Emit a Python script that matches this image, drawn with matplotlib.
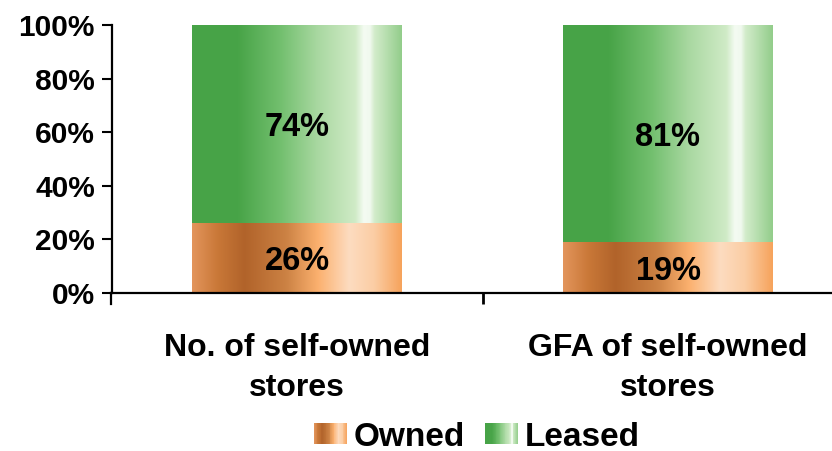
import numpy as np
import matplotlib
matplotlib.use("Agg")
import matplotlib.pyplot as plt
from matplotlib.colors import LinearSegmentedColormap
from matplotlib.patches import Rectangle
from matplotlib.legend_handler import HandlerBase

categories = ["No. of self-owned\nstores", "GFA of self-owned\nstores"]
owned = [26, 19]
leased = [74, 81]
series_names = ["Owned", "Leased"]
yticks = [0, 20, 40, 60, 80, 100]

orange_stops = [(0.0, "#E3955C"), (0.12, "#C97838"), (0.25, "#B1632A"), (0.45, "#CC8244"),
                (0.6, "#FBB06E"), (0.75, "#FDDCC0"), (0.87, "#FBCDA4"), (1.0, "#F6A35C")]
green_stops = [(0.0, "#47A347"), (0.22, "#48A448"), (0.42, "#72BF6E"), (0.6, "#A9D8A1"),
               (0.78, "#D0EBC7"), (0.82, "#F4FBF2"), (0.85, "#F0F9EE"), (0.87, "#D3ECCB"),
               (1.0, "#93CD8B")]
cmap_orange = LinearSegmentedColormap.from_list("org", orange_stops)
cmap_green = LinearSegmentedColormap.from_list("grn", green_stops)

plt.rcParams["font.family"] = ["Liberation Sans", "DejaVu Sans"]
plt.rcParams["font.weight"] = "bold"

fig = plt.figure(figsize=(8.32, 4.51), dpi=100)
W, H = 832, 451
ax = fig.add_axes([111.5 / W, (H - 293) / H, 742 / W, 268 / H])

x = np.arange(len(categories))
bw = 0.566
grad = np.linspace(0, 1, 256).reshape(1, -1)

bars_o = ax.bar(x, owned, bw, color="none", edgecolor="none", zorder=2)
bars_l = ax.bar(x, leased, bw, bottom=owned, color="none", edgecolor="none", zorder=2)

for bars, cmap in ((bars_o, cmap_orange), (bars_l, cmap_green)):
    for p in bars:
        x0, y0 = p.get_x(), p.get_y()
        ax.imshow(grad, cmap=cmap, aspect="auto", extent=(x0, x0 + p.get_width(), y0, y0 + p.get_height()),
                  zorder=1, interpolation="bilinear")

for i in range(len(categories)):
    ax.text(x[i], owned[i] / 2, f"{owned[i]}%", ha="center", va="center_baseline", fontsize=23.5,
            fontweight="bold", zorder=3)
    ax.text(x[i], owned[i] + leased[i] / 2, f"{leased[i]}%", ha="center", va="center_baseline",
            fontsize=23.5, fontweight="bold", zorder=3)

ax.set_xlim(-0.5, 1.5)
ax.set_ylim(0, 100)
ax.set_yticks(yticks)
ax.set_yticklabels([f"{v}%" for v in yticks], fontsize=21.5, fontweight="bold")
ax.set_xticks([0.5])
ax.set_xticklabels([""])
ax.set_xticks(x, minor=True)
ax.set_xticklabels(categories, minor=True, fontsize=23, fontweight="bold", linespacing=1.42)
ax.tick_params(axis="x", which="minor", length=0, pad=29)
ax.tick_params(axis="x", which="major", length=8, width=2)
ax.tick_params(axis="y", length=7, width=1.5, pad=5)
for s in ["top", "right"]:
    ax.spines[s].set_visible(False)
for s in ["left", "bottom"]:
    ax.spines[s].set_linewidth(1.6)
ax.set_facecolor("none")


class GradHandler(HandlerBase):
    def __init__(self, cmap):
        super().__init__()
        self.cmap = cmap

    def create_artists(self, legend, orig_handle, xdescent, ydescent, width, height, fontsize, trans):
        n = 40
        arts = []
        for k in range(n):
            r = Rectangle((width * k / n, -ydescent), width / n + 0.3, height,
                          facecolor=self.cmap((k + 0.5) / n), edgecolor="none", transform=trans)
            arts.append(r)
        return arts


h1 = Rectangle((0, 0), 1, 1)
h2 = Rectangle((0, 0), 1, 1)
leg = fig.legend([h1, h2], series_names, loc="center", bbox_to_anchor=(477 / W, 1 - 437 / H),
                 ncol=2, frameon=False, fontsize=24, handlelength=0.97, handleheight=0.6,
                 handletextpad=0.22, columnspacing=0.6, borderpad=0.0,
                 handler_map={h1: GradHandler(cmap_orange), h2: GradHandler(cmap_green)})
for t in leg.get_texts():
    t.set_fontweight("bold")

# y-axis continues slightly below the x-axis like the reference
ax.plot([-0.5, -0.5], [0, -4], color="black", lw=1.6, clip_on=False)

fig.savefig("out.png", dpi=100)
